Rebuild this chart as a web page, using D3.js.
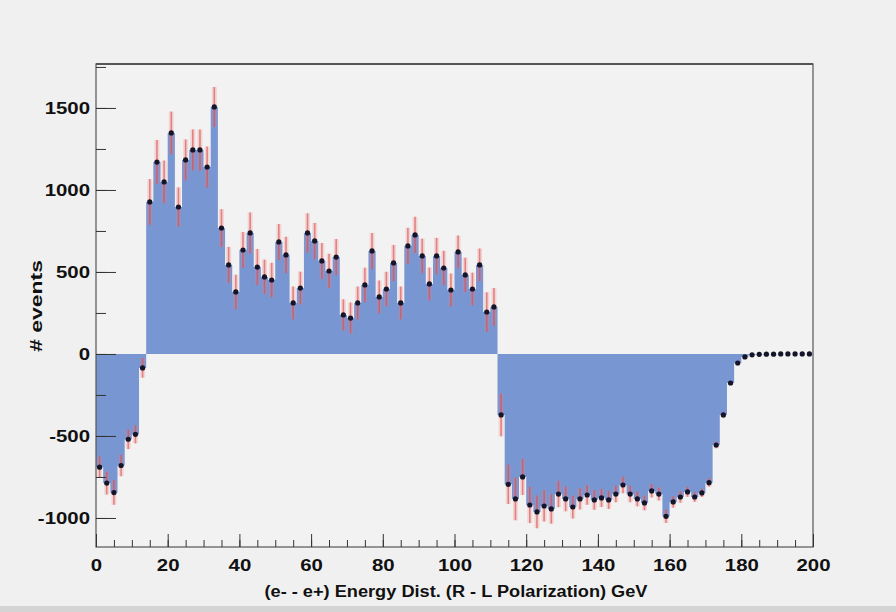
<!DOCTYPE html>
<html>
<head>
<meta charset="utf-8">
<title>energy dist</title>
<script src="https://cdn.jsdelivr.net/npm/d3@7"></script>
<style>
  body { margin: 0; background: #f0f0f0; }
  svg { display: block; }
  text { font-family: "Liberation Sans", Arial, Helvetica, sans-serif; font-weight: bold; fill: #111; }
</style>
</head>
<body>
<script>

// 100 bins of 2 GeV, 0..200
var binEdges = d3.range(0, 201, 2);

var counts = [
  -690, -787, -845, -680, -520, -490, -85,
  927, 1170, 1049, 1348, 896, 1183, 1244, 1244, 1140, 1506,
  768, 543, 378, 634, 738, 530, 470, 451, 683, 604,
  311, 402, 738, 689, 567, 506, 591, 238, 219, 311,
  421, 628, 348, 396, 555, 311, 659, 726, 598, 427,
  598, 524, 390, 622, 482, 396, 543, 256, 287,
  -372, -795, -884, -750, -921, -963, -927, -945, -854, -884,
  -933, -884, -860, -890, -878, -890, -854, -799, -854, -884,
  -908, -835, -854, -990, -902, -872, -841, -872, -847, -785,
  -555, -372, -177, -55, -18, -5, -2, -1, -1, 0,
  0, 0, 0, 0
];

var errors = [
  65, 70, 75, 65, 60, 55, 60,
  140, 135, 130, 130, 120, 125, 125, 125, 125, 122,
  115, 110, 105, 110, 125, 110, 105, 105, 110, 110,
  100, 100, 120, 110, 110, 105, 110, 95, 95, 100,
  105, 110, 100, 105, 110, 100, 110, 110, 105, 100,
  110, 105, 100, 100, 105, 100, 100, 120, 115,
  130, 120, 130, 110, 110, 100, 95, 90, 80, 75,
  70, 65, 60, 60, 55, 55, 50, 50, 50, 45,
  45, 40, 40, 40, 35, 35, 30, 30, 25, 25,
  20, 15, 12, 8, 5, 3, 2, 2, 2, 2,
  2, 2, 2, 2
];

var yMajor = [-1000, -500, 0, 500, 1000, 1500];
var yMinor = [-1000, -750, -500, -250, 0, 250, 500, 750, 1000, 1250, 1500, 1750];
var xMajor = d3.range(0, 201, 20);
var xMinor = d3.range(0, 201, 5);

var W = 896, H = 612;
var pLeft = 96, pRight = 813, pTop = 64, pBottom = 547;

var data = counts.map(function (v, i) {
  return { lo: binEdges[i], hi: binEdges[i + 1], v: v, e: errors[i] };
});

var x = d3.scaleLinear().domain([0, 200]).range([pLeft, pRight]);
var y = d3.scaleLinear().domain([-1177, 1768]).range([pBottom, pTop]);

var svg = d3.select("body").append("svg")
  .attr("width", W)
  .attr("height", H);

svg.append("rect").attr("width", W).attr("height", H).attr("fill", "#f0f0f0");
svg.append("rect").attr("x", 0).attr("y", 606).attr("width", W).attr("height", 6).attr("fill", "#d4d4d4");

// plot area
svg.append("rect")
  .attr("x", pLeft).attr("y", pTop)
  .attr("width", pRight - pLeft).attr("height", pBottom - pTop)
  .attr("fill", "#f2f2f2");

// histogram fill
var steps = data.map(function (d) { return { x: d.lo, v: d.v }; });
steps.push({ x: 200, v: counts[counts.length - 1] });

var area = d3.area()
  .x(function (d) { return x(d.x); })
  .y0(y(0))
  .y1(function (d) { return y(d.v); })
  .curve(d3.curveStepAfter);

svg.append("path")
  .datum(steps)
  .attr("d", area)
  .attr("fill", "#7896d2")
  .attr("stroke", "none");

// error bars
var eb = svg.append("g");
eb.selectAll(".halo")
  .data(data)
  .enter().append("line")
  .attr("class", "halo")
  .attr("x1", function (d) { return x((d.lo + d.hi) / 2); })
  .attr("x2", function (d) { return x((d.lo + d.hi) / 2); })
  .attr("y1", function (d) { return y(d.v + d.e); })
  .attr("y2", function (d) { return y(d.v - d.e); })
  .attr("stroke", "#f08080")
  .attr("stroke-opacity", 0.25)
  .attr("stroke-width", 5);

eb.selectAll(".err")
  .data(data)
  .enter().append("line")
  .attr("class", "err")
  .attr("x1", function (d) { return x((d.lo + d.hi) / 2); })
  .attr("x2", function (d) { return x((d.lo + d.hi) / 2); })
  .attr("y1", function (d) { return y(d.v + d.e); })
  .attr("y2", function (d) { return y(d.v - d.e); })
  .attr("stroke", "#e04848")
  .attr("stroke-opacity", 0.6)
  .attr("stroke-width", 1.6);

// markers
svg.append("g").selectAll("circle")
  .data(data)
  .enter().append("circle")
  .attr("cx", function (d) { return x((d.lo + d.hi) / 2); })
  .attr("cy", function (d) { return y(d.v); })
  .attr("r", 2.6)
  .attr("fill", "#15152a");

// frame
svg.append("rect")
  .attr("x", pLeft).attr("y", pTop)
  .attr("width", pRight - pLeft).attr("height", pBottom - pTop)
  .attr("fill", "none")
  .attr("stroke", "#555")
  .attr("stroke-width", 1.2);
svg.append("line")
  .attr("x1", pLeft).attr("x2", pRight).attr("y1", pTop).attr("y2", pTop)
  .attr("stroke", "#555").attr("stroke-width", 2);

// y axis
var yMinorAxis = svg.append("g")
  .attr("transform", "translate(" + pLeft + ",0)")
  .call(d3.axisLeft(y).tickValues(yMinor).tickSize(-10).tickFormat(""));
var yAxis = svg.append("g")
  .attr("transform", "translate(" + pLeft + ",0)")
  .call(d3.axisLeft(y).tickValues(yMajor).tickSizeInner(-20).tickSizeOuter(0)
    .tickPadding(6).tickFormat(function (d) { return String(d); }));

// x axis
var xMinorAxis = svg.append("g")
  .attr("transform", "translate(0," + pBottom + ")")
  .call(d3.axisBottom(x).tickValues(xMinor).tickSize(-7).tickFormat(""));
var xAxis = svg.append("g")
  .attr("transform", "translate(0," + pBottom + ")")
  .call(d3.axisBottom(x).tickValues(xMajor).tickSizeInner(-13).tickSizeOuter(0)
    .tickPadding(12).tickFormat(function (d) { return String(d); }));

[yMinorAxis, yAxis, xMinorAxis, xAxis].forEach(function (g) {
  g.select(".domain").remove();
  g.selectAll("line").attr("stroke", "#333").attr("stroke-width", 1);
});

yAxis.selectAll("text")
  .attr("font-size", 17)
  .attr("fill", "#111")
  .attr("transform", "scale(1.2,1)")
  .attr("x", -5);
xAxis.selectAll("text")
  .attr("font-size", 17)
  .attr("fill", "#111")
  .attr("transform", "scale(1.2,1)");

// titles
svg.append("text")
  .attr("x", 456)
  .attr("y", 597)
  .attr("text-anchor", "middle")
  .attr("font-size", 16)
  .attr("textLength", 383)
  .attr("lengthAdjust", "spacingAndGlyphs")
  .text("(e- - e+) Energy Dist. (R - L Polarization) GeV");

svg.append("text")
  .attr("transform", "translate(42,306) rotate(-90)")
  .attr("text-anchor", "middle")
  .attr("font-size", 16)
  .attr("textLength", 92)
  .attr("lengthAdjust", "spacingAndGlyphs")
  .text("# events");

</script>
</body>
</html>
